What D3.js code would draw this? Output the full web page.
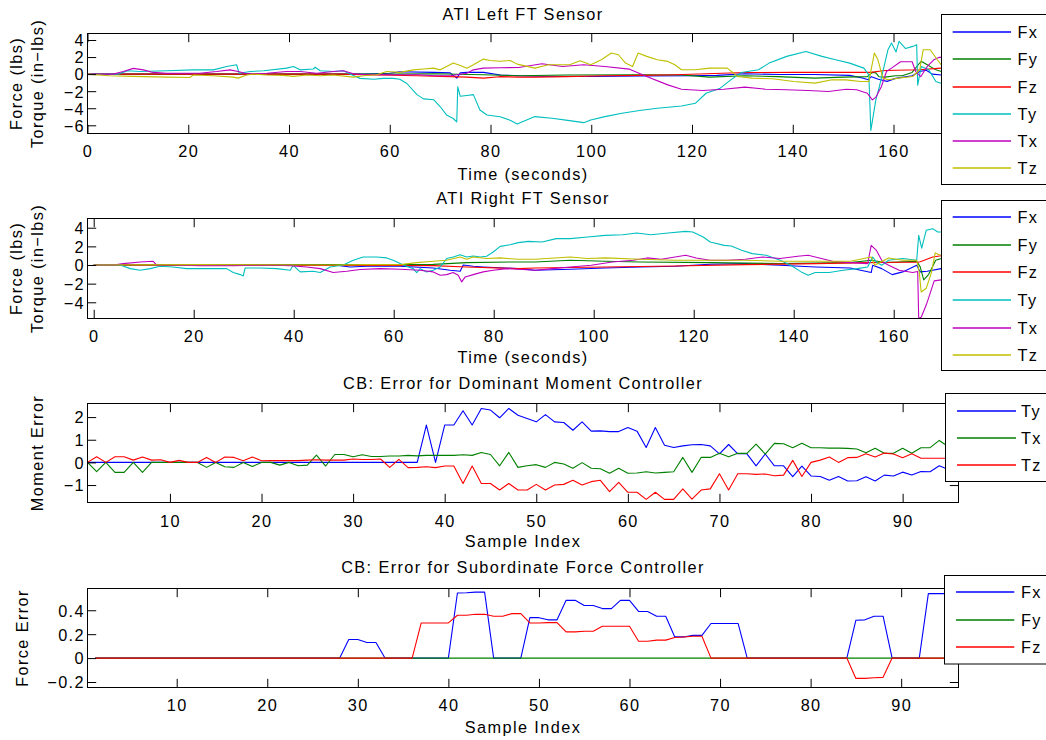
<!DOCTYPE html>
<html><head><meta charset="utf-8">
<script src="https://cdn.jsdelivr.net/npm/d3@7"></script>
<style>
body{margin:0;background:#fff;}
svg text{font-family:"Liberation Sans",Arial,Helvetica,sans-serif;font-size:16.3px;letter-spacing:1.4px;fill:#000;}
</style></head><body><svg id="c" width="1046" height="740"></svg>
<script>
// ---------------- DATA ----------------
const timeTicks = [0,20,40,60,80,100,120,140,160];
const sampleTicks = [10,20,30,40,50,60,70,80,90];
const leftYTicks = [-6,-4,-2,0,2,4];
const rightYTicks = [-4,-2,0,2,4];
const momentYTicks = [-1,0,1,2];
const forceYTicks = [-0.2,0,0.2,0.4];
const sensorLabels = ["Fx","Fy","Fz","Ty","Tx","Tz"];
const momentLabels = ["Ty","Tx","Tz"];
const forceLabels = ["Fx","Fy","Fz"];

// ATI Left FT Sensor  [time (s), value]
const leftFx = [[0,0],[55,0],[60,0.1],[62,0.27],[68.7,0.2],[72,0.15],[73.3,-0.47],[74,0.15],[75.3,0.2],[78.6,0.2],[82,-0.1],[85.6,-0.2],[90,-0.25],[100,-0.28],[110,-0.22],[120,-0.2],[125,-0.15],[130.5,0.04],[137.4,-0.05],[144.4,-0.05],[151.3,-0.15],[153.8,-0.45],[155,-0.65],[155.6,-0.3],[157,-0.6],[158.7,-0.85],[160.4,-0.5],[163.7,-0.2],[165.2,0.3],[166.5,0.45],[167.7,0],[169.5,-0.1],[173,-0.15]];
const leftFy = [[0,0],[60,0],[68.7,0.05],[78.6,-0.08],[85.6,-0.2],[95,-0.1],[110,-0.08],[118,-0.1],[123.5,-0.35],[130.5,-0.2],[137,-0.3],[144.4,-0.47],[150,-0.35],[154.8,-0.3],[155.8,0.2],[156.5,0.15],[157.1,-0.3],[158.3,-0.35],[160.4,-0.2],[161.7,-0.2],[163.7,0.2],[165.2,1.3],[165.5,1.5],[166.7,1.1],[168.4,0.5],[169.5,0.3],[173,0.3]];
const leftFz = [[0,0],[50,0],[55.4,-0.08],[65.4,-0.2],[75.3,-0.35],[78.6,-0.47],[81.8,-0.3],[85.6,-0.35],[88.8,-0.35],[95,-0.3],[102.7,-0.2],[110,-0.15],[116.6,-0.08],[123,0.05],[130.5,0.19],[140,0.2],[151.3,0.2],[155.5,0.2],[158.3,0.43],[165.2,0.51],[169.4,0.7],[173,0.7]];
const leftTy = [[0,0],[6,0],[8,0.4],[10.4,0.3],[15.7,0.4],[21,0.5],[25,0.5],[27.6,0.9],[29.6,1.1],[30.1,0.1],[32.3,0.3],[35,0.4],[39.5,0.7],[40.9,0.9],[42.2,0.5],[44.8,0.6],[45.2,0.8],[46.2,0.4],[48.8,0.3],[50.8,0.4],[52.1,0.0],[54.1,-0.5],[56.8,-0.6],[58.7,-0.5],[60.7,-0.5],[62,-0.6],[63.4,-1.1],[65.4,-2.4],[66.7,-2.9],[68.7,-3.0],[70,-3.8],[71.3,-4.8],[72.6,-5.2],[73.3,-5.6],[73.5,-1.5],[74,-2.6],[75.3,-2.5],[76.6,-2.4],[77.9,-4.2],[79.3,-4.8],[81.9,-5.0],[83.9,-5.4],[85.3,-5.84],[88.8,-4.98],[92.2,-5.18],[95.7,-5.45],[98.5,-5.69],[99.9,-5.37],[102.7,-4.98],[106.1,-4.59],[109.6,-4.27],[113.1,-4.0],[117.9,-3.73],[120.7,-3.41],[122.8,-2.24],[125.6,-1.65],[127.7,-0.67],[129.8,0.19],[133.2,0.51],[135.3,1.29],[138.8,2.08],[142.6,2.66],[145.8,2.08],[148.5,1.68],[151.3,1.29],[154.1,0.70],[155.1,-0.08],[155.5,-6.6],[156.5,-3.0],[157.2,-1.45],[157.9,0.31],[158.9,2.86],[159.6,3.64],[160.5,2.6],[161.1,3.84],[162.4,3.0],[163.8,3.25],[164.6,3.45],[164.8,-1.3],[165.5,0.9],[167,0.5],[168.4,-0.86],[169.4,-1.06],[173,-0.8]];
const leftTx = [[0,0],[5.1,0],[7.1,0.3],[9.1,0.67],[11.1,0.5],[13,0.2],[15.7,0.1],[22.3,0.1],[25.6,0.3],[28.3,0.5],[29.9,0.3],[31.6,0.05],[35.6,0.1],[39.5,0.3],[42.2,0.3],[45.5,0.1],[48.8,0.3],[50.8,0.4],[52.8,0.05],[55.4,-0.08],[62,-0.08],[65.8,-0.08],[68.7,-0.2],[72,-0.2],[75.3,0.1],[76.6,0.5],[78.6,0.7],[81.9,0.75],[85.6,0.78],[90.2,1.21],[94.3,0.9],[98.5,1.1],[102.7,0.9],[107.5,0.59],[111,-0.28],[115.2,-1.26],[117.9,-1.77],[122.1,-1.92],[126.3,-1.77],[130.5,-1.53],[134.6,-1.77],[138.8,-1.84],[143,-1.92],[147.1,-2.04],[150.6,-1.77],[152.7,-1.84],[154.8,-2.24],[155.8,-3.02],[156.5,-2.7],[157.6,-1.45],[158.6,0.31],[159.6,0.7],[161.4,1.45],[163.7,1.45],[164.4,0.3],[165.4,-0.3],[166.7,0.9],[168,1.68],[169,1.96],[173,2.0]];
const leftTz = [[0,0],[4.4,-0.2],[9,-0.27],[15.7,-0.35],[20.3,-0.4],[21,-0.1],[25,-0.2],[28.9,-0.35],[29.9,-0.47],[31.6,-0.1],[32.9,0.0],[35.6,-0.1],[38.9,-0.15],[40.9,-0.27],[43.5,-0.1],[46.2,-0.2],[48.8,-0.1],[52.8,-0.35],[54.8,-0.2],[57.4,-0.08],[59.4,0.3],[62,0.2],[64.7,0.5],[66.7,0.6],[68.7,0.7],[70,0.5],[71.3,0.9],[72.6,1.3],[74,1.0],[75.3,0.7],[76.6,1.1],[78.6,1.76],[79.9,1.6],[81.9,1.5],[83.9,1.6],[85.3,1.17],[88.8,0.70],[91.5,1.1],[95.7,1.1],[97.8,1.57],[99.9,1.1],[102,1.68],[104,2.47],[105.4,2.27],[106.8,1.29],[108.2,0.9],[109.3,2.47],[111,2.08],[113.1,1.68],[115.2,1.49],[116.6,1.1],[117.9,0.51],[120.7,0.51],[123.5,0.7],[127,0.7],[129.1,-0.28],[131.9,-0.47],[136,-0.55],[140.2,-0.86],[144.4,-1.06],[147.8,-0.67],[150.6,-0.67],[153.4,-0.86],[155.1,-0.86],[156.2,2.47],[156.9,1.68],[157.9,-0.47],[159,-0.67],[161,-0.47],[163.8,-0.28],[165.2,0.51],[165.9,2.86],[167.3,2.86],[168.7,1.68],[169.7,0.9],[173,0.5]];

// ATI Right FT Sensor  [time (s), value]
const rightFx = [[0,0],[48,0],[51.3,-0.21],[54.6,-0.14],[61.3,-0.14],[67.9,-0.32],[71.3,-0.56],[73.3,-0.67],[73.9,0.0],[75.9,-0.14],[77.9,-0.21],[81.3,-0.3],[84.9,-0.39],[88.3,-0.56],[95.3,-0.46],[102.3,-0.32],[109.3,-0.21],[116.3,-0.14],[123.3,0.08],[130.3,0.15],[137.3,-0.03],[144.3,-0.21],[151.3,-0.32],[155.5,-0.81],[155.8,-0.03],[157.6,-0.39],[159.7,-1.03],[161.8,-0.74],[164.6,-0.03],[165.3,-0.74],[166.7,-0.67],[169.5,-0.39],[173,-0.3]];
const rightFy = [[0,0],[60,0.05],[67.9,0.07],[74.6,0.26],[84.9,0.33],[88.3,0.33],[95.3,0.51],[102.3,0.4],[109.3,0.33],[123.3,0.26],[137.3,0.15],[151.3,0.26],[155.5,0.51],[158.3,0.26],[164.6,0.4],[165.3,-0.2],[166,-1.6],[167,-1.0],[168.4,0.51],[169.5,0.7],[173,0.7]];
const rightFz = [[0,0],[60,-0.05],[67.9,-0.07],[74.6,-0.21],[84.9,-0.39],[88.3,-0.32],[102.3,-0.21],[116.3,-0.1],[130.3,0.04],[144.3,0.15],[154.8,0.26],[161.8,0.3],[164.8,0.3],[165.3,0.35],[167.8,0.86],[169.5,1.0],[173,1.0]];
const rightTy = [[0,0],[5.3,0],[7.3,-0.39],[9.3,-0.56],[11.3,-0.39],[13.3,-0.14],[15.9,-0.21],[18.6,-0.39],[26.6,-0.39],[27.9,-0.81],[29.3,-1.03],[29.9,-1.17],[30.3,-0.32],[33.3,-0.32],[36.6,-0.39],[39.3,-0.56],[39.9,-0.03],[41.3,-0.74],[43.9,-0.67],[45.3,-0.81],[47.3,-0.21],[49.9,0.0],[51.9,0.51],[53.9,0.86],[56.6,0.86],[58.6,0.76],[59.9,0.51],[61.9,0.0],[63.9,-0.39],[64.6,-0.81],[65.3,-0.39],[66.6,-0.74],[67.9,-0.56],[69.3,-0.21],[70.6,0.69],[71.9,0.86],[73.3,1.1],[74.6,0.86],[75.9,0.97],[77.3,0.86],[78.6,0.94],[79.9,1.4],[81.3,2.0],[83.3,2.18],[84.9,2.4],[86.9,2.54],[89.7,2.47],[92.5,2.83],[95.3,2.83],[98.8,3.0],[102.3,3.18],[105.8,3.25],[108.6,3.43],[111.4,3.25],[114.9,3.43],[118.4,3.61],[119.8,3.54],[121.9,3.0],[123.3,2.47],[126.1,2.11],[127.5,2.04],[129.6,1.58],[131.7,1.22],[134.5,1.04],[137.3,0.51],[139.4,-0.03],[141.5,-0.74],[142.9,-1.1],[144.3,-0.81],[147.1,-0.81],[149.9,-0.56],[152.7,-0.39],[154.8,-0.21],[155.8,0.86],[156.5,0.33],[157.6,-0.03],[159,0.51],[161.8,0.69],[164.6,0.51],[165,3.18],[165.6,1.8],[166.5,3.72],[167.8,3.9],[168.8,3.54],[169.5,3.54],[173,3.5]];
const rightTx = [[0,0],[4,0],[5.9,0.15],[9.3,0.33],[11.9,0.4],[12.6,0.0],[15.9,0.0],[21.3,-0.07],[27.9,-0.07],[34.6,0.0],[39.3,-0.07],[42.6,-0.21],[45.3,-0.39],[47.9,-0.81],[50.6,-0.67],[53.3,-0.49],[57.3,-0.39],[61.3,-0.46],[65.3,-0.56],[67.9,-0.74],[69.3,-1.1],[70.6,-1.03],[71.9,-0.81],[72.9,-1.1],[73.6,-1.81],[74.3,-1.28],[75.9,-1.03],[77.9,-0.74],[79.9,-0.56],[82.6,-0.39],[84.9,-0.46],[88.3,-0.56],[91.8,-0.39],[95.3,-0.21],[99.5,-0.03],[103.7,0.33],[107.9,0.51],[110.7,0.76],[113.5,0.61],[116.3,0.86],[118.4,1.04],[120.5,0.76],[123.3,0.51],[126.8,0.51],[130.3,0.61],[133.8,0.86],[137.3,0.69],[140.8,0.94],[142.9,1.04],[144.3,0.86],[147.8,0.4],[151.3,0.26],[154.8,0.15],[155.5,2.11],[156.5,1.6],[157.8,0.33],[159,-0.03],[161.1,-0.56],[163.8,-0.81],[164.8,-0.7],[165,-5.74],[165.5,-5.6],[166.5,-4.3],[167.5,-2.7],[168.1,-1.7],[169.5,-1.6],[173,-1.5]];
const rightTz = [[0,0],[21.3,0.04],[47.9,0.0],[54.6,0.04],[61.3,0.04],[64.6,0.26],[67.9,0.4],[70.6,0.51],[73.3,0.86],[74.6,0.61],[75.9,0.86],[78.6,0.69],[81.3,0.76],[84.9,0.61],[88.3,0.61],[95.3,0.86],[98.8,0.69],[102.3,0.76],[109.3,0.61],[116.3,0.51],[130.3,0.51],[137.3,0.4],[151.3,0.4],[155.5,0.86],[156.2,-0.03],[157.2,0.26],[159,0.76],[161.8,0.51],[164.6,0.51],[165.1,-0.74],[165.5,-2.9],[166.5,-2.5],[167.5,-0.9],[168.3,1.3],[169.1,1.1],[173,1.0]];

// CB: Error for Dominant Moment Controller  (samples 1..96)
const momentTy = [0,0,0,0,0,0,0,0,0,0, 0,0,0,0,0,0,0,0,0,0, 0,0,0,0,0,0,0,0,0,0, 0,0,0,0,0,0,0,1.65,0,1.65,
 1.65,2.28,1.65,2.38,2.31,1.97,2.38,2.08,1.94,1.79, 2.11,1.79,1.76,1.42,1.79,1.38,1.39,1.36,1.36,1.54,
 1.38,0.66,1.54,0.76,0.66,0.73,0.78,0.79,0.73,0.38, 0.79,0.38,0.38,-0.15,0.37,-0.15,-0.15,-0.63,-0.16,-0.60,
 -0.62,-0.79,-0.62,-0.82,-0.81,-0.63,-0.82,-0.56,-0.60,-0.43, -0.56,-0.40,-0.41,-0.15,-0.31,-0.10];
const momentTx = [0,-0.41,0,-0.44,-0.44,0,-0.44,0,0,0, 0,0,0,-0.22,0,-0.19,-0.22,0,-0.18,0,
 0,-0.12,0,-0.15,-0.12,0.32,-0.16,0.35,0.35,0.25, 0.34,0.26,0.26,0.28,0.28,0.31,0.29,0.31,0.31,0.31,
 0.31,0.34,0.31,0.44,0.35,-0.15,0.44,-0.22,-0.15,-0.10, -0.22,0,-0.07,-0.26,-0.01,-0.26,-0.28,-0.48,-0.26,-0.48,
 -0.47,-0.41,-0.47,-0.44,-0.41,0.22,-0.44,0.22,0.22,0.40, 0.25,0.40,0.40,0.81,0.37,0.84,0.82,0.65,0.84,0.65,
 0.65,0.63,0.63,0.62,0.59,0.43,0.62,0.40,0.40,0.62, 0.40,0.65,0.65,0.97,0.69,0.90];
const momentTz = [0,0.25,0,0.25,0.25,0.10,0.24,0.10,0.12,0, 0.09,0,0,0.22,0,0.24,0.22,0.07,0.24,0.07,
 0.08,0.08,0.08,0.08,0.10,0.12,0.10,0.10,0.10,0.15, 0.13,0.13,0.15,-0.22,0.13,-0.23,-0.22,-0.19,-0.23,-0.16,
 -0.16,-0.93,-0.16,-0.93,-0.93,-1.22,-0.93,-1.22,-1.22,-0.97, -1.22,-1.00,-0.97,-0.79,-1.00,-0.85,-0.79,-1.29,-0.88,-1.32,
 -1.32,-1.63,-1.32,-1.63,-1.63,-1.17,-1.62,-1.22,-1.17,-0.50, -1.22,-0.50,-0.50,-0.53,-0.51,-0.59,-0.56,0.09,-0.62,0,
 0.10,0.24,0,0.21,0.22,0.38,0.24,0.41,0.37,0.21, 0.38,0.18,0.18,0.18,0.18,0.18];

// CB: Error for Subordinate Force Controller  (samples 1..96)
const forceFx = [0,0,0,0,0,0,0,0,0,0, 0,0,0,0,0,0,0,0,0,0, 0,0,0,0,0,0,0,0,0.155,0.155,
 0.13,0.13,0,0,0,0,0,0,0,0, 0.544,0.547,0.552,0.552,0,0,0,0,0.338,0.338,
 0.32,0.32,0.483,0.483,0.44,0.44,0.414,0.414,0.483,0.483, 0.39,0.39,0.35,0.35,0.177,0.177,0.19,0.19,0.289,0.289,
 0.289,0.289,0,0,0,0,0,0,0,0, 0,0,0,0,0.317,0.32,0.35,0.35,0,0, 0,0,0.539,0.539,0.539,0.539];
const forceFy = [0,0,0,0,0,0,0,0,0,0, 0,0,0,0,0,0,0,0,0,0, 0,0,0,0,0,0,0,0,0,0,
 0,0,0,0,0,0,0,0,0,0, 0,0,0,0,0,0,0,0,0,0, 0,0,0,0,0,0,0,0,0,0,
 0,0,0,0,0,0,0,0,0,0, 0,0,0,0,0,0,0,0,0,0, 0,0,0,0,0,0,0,0,0,0, 0,0,0,0,0,0];
const forceFz = [0,0,0,0,0,0,0,0,0,0, 0,0,0,0,0,0,0,0,0,0, 0,0,0,0,0,0,0,0,0,0,
 0,0,0,0,0,0,0.294,0.294,0.294,0.294, 0.358,0.358,0.366,0.366,0.35,0.35,0.372,0.372,0.294,0.294,
 0.297,0.297,0.219,0.219,0.225,0.225,0.266,0.266,0.266,0.266, 0.141,0.141,0.15,0.15,0.172,0.177,0.183,0.183,0,0,
 0,0,0,0,0,0,0,0,0,0, 0,0,0,0,-0.17,-0.17,-0.164,-0.161,0,0, 0,0,0,0,0,0];

// ---------------- DRAW ----------------
const C = {blue:"#0000ff", green:"#008000", red:"#ff0000", cyan:"#00bfbf", magenta:"#bf00bf", olive:"#bfbf00"};
const svg = d3.select("#c");
const L = 87.5, R = 958.5, TICK = 8.7;
const fmt = d3.format("~g");

function toPairs(vals){ return vals.map((v,i)=>[i+1, v]); }

function panel(p){
  const x = d3.scaleLinear().domain(p.xDomain).range([L, R]);
  const y = d3.scaleLinear().domain(p.yDomain).range([p.bottom, p.top]);
  const g = svg.append("g");
  const cid = "clip" + p.id;
  svg.append("clipPath").attr("id", cid).append("rect")
    .attr("x", L).attr("y", p.top).attr("width", R - L).attr("height", p.bottom - p.top);
  const line = d3.line().x(d => x(d[0])).y(d => y(d[1]));
  const lg = g.append("g").attr("clip-path", `url(#${cid})`);
  p.series.forEach(s => {
    lg.append("path").attr("d", line(s.data)).attr("fill","none")
      .attr("stroke", s.color).attr("stroke-width", 1.1).attr("stroke-linejoin","round");
  });
  // axes
  const ax = g.append("g").attr("transform", `translate(0,${p.bottom})`)
    .call(d3.axisBottom(x).tickValues(p.xTicks).tickFormat(fmt).tickSize(-TICK).tickPadding(0));
  ax.selectAll("text").attr("y", p.xLabelOff).attr("dy", null);
  g.append("g").attr("transform", `translate(0,${p.top})`)
    .call(d3.axisTop(x).tickValues(p.xTicks).tickFormat("").tickSize(-TICK));
  const ay = g.append("g").attr("transform", `translate(${L},0)`)
    .call(d3.axisLeft(y).tickValues(p.yTicks).tickFormat(fmt).tickSize(-TICK).tickPadding(0));
  ay.selectAll("text").attr("x", -2.5).attr("dy", "0.36em");
  g.append("g").attr("transform", `translate(${R},0)`)
    .call(d3.axisRight(y).tickValues(p.yTicks).tickFormat("").tickSize(-TICK));
  g.selectAll(".domain").remove();
  g.selectAll(".tick line").attr("stroke", "#000");
  g.append("rect").attr("x", L).attr("y", p.top).attr("width", R - L).attr("height", p.bottom - p.top)
    .attr("fill","none").attr("stroke","#000").attr("stroke-width",1);
  // title & labels
  const cx = (L + R) / 2;
  svg.append("text").attr("x", cx).attr("y", p.titleY).attr("text-anchor","middle").text(p.title);
  svg.append("text").attr("x", cx).attr("y", p.xLabelY).attr("text-anchor","middle").text(p.xLabel);
  const cy = (p.top + p.bottom) / 2;
  p.yLabels.forEach(yl => {
    svg.append("text").attr("transform", `translate(${yl.x},${cy}) rotate(-90)`)
      .attr("text-anchor","middle").text(yl.text);
  });
  // legend
  const lgd = svg.append("g");
  lgd.append("rect").attr("x", p.leg.x).attr("y", p.leg.y).attr("width", p.leg.w).attr("height", p.leg.h)
    .attr("fill","#fff").attr("stroke","#000").attr("stroke-width",1);
  p.series.forEach((s, i) => {
    const ey = Math.round(p.leg.y + p.leg.first + i * p.leg.step);
    lgd.append("line").attr("x1", p.leg.lx1).attr("x2", p.leg.lx2).attr("y1", ey).attr("y2", ey)
      .attr("stroke", s.color).attr("stroke-width", 1.5);
    lgd.append("text").attr("x", p.leg.tx).attr("y", ey + 5.8).text(s.name);
  });
}

const leftData = [leftFx, leftFy, leftFz, leftTy, leftTx, leftTz];
const rightData = [rightFx, rightFy, rightFz, rightTy, rightTx, rightTz];
const sensorColors = [C.blue, C.green, C.red, C.cyan, C.magenta, C.olive];
const tripleColors = [C.blue, C.green, C.red];

panel({id:1, top:33.5, bottom:133.5, xDomain:[0,172.9], yDomain:[-6.96,4.76],
  xTicks:timeTicks, yTicks:leftYTicks, xLabelOff:23, title:"ATI Left FT Sensor", titleY:19.5,
  xLabel:"Time (seconds)", xLabelY:179.5,
  yLabels:[{x:21.7,text:"Force (lbs)"},{x:43.4,text:"Torque (in\u2212lbs)"}],
  series: sensorLabels.map((n,i)=>({name:n, color:sensorColors[i], data:leftData[i]})),
  leg:{x:941.5,y:14.5,w:130,h:170,first:17.8,step:27.1,lx1:952.7,lx2:1011,tx:1017.5}});

panel({id:2, top:218.5, bottom:318.5, xDomain:[-1.24,172.96], yDomain:[-5.74,4.99],
  xTicks:timeTicks, yTicks:rightYTicks, xLabelOff:23.2, title:"ATI Right FT Sensor", titleY:203.5,
  xLabel:"Time (seconds)", xLabelY:363,
  yLabels:[{x:21.7,text:"Force (lbs)"},{x:43.4,text:"Torque (in\u2212lbs)"}],
  series: sensorLabels.map((n,i)=>({name:n, color:sensorColors[i], data:rightData[i]})),
  leg:{x:941.5,y:200.5,w:130,h:170,first:16.6,step:27.6,lx1:952.7,lx2:1011,tx:1017.5}});

const momentData = [momentTy, momentTx, momentTz];
panel({id:3, top:403.5, bottom:502.5, xDomain:[1,96.1], yDomain:[-1.77,2.6],
  xTicks:sampleTicks, yTicks:momentYTicks, xLabelOff:24, title:"CB: Error for Dominant Moment Controller", titleY:388.5,
  xLabel:"Sample Index", xLabelY:547,
  yLabels:[{x:43.4,text:"Moment Error"}],
  series: momentLabels.map((n,i)=>({name:n, color:tripleColors[i], data:toPairs(momentData[i])})),
  leg:{x:945.5,y:393.5,w:130,h:88,first:17.2,step:27,lx1:957,lx2:1016,tx:1021}});

const forceData = [forceFx, forceFy, forceFz];
panel({id:4, top:588.5, bottom:687.5, xDomain:[0.15,96.33], yDomain:[-0.246,0.582],
  xTicks:sampleTicks, yTicks:forceYTicks, xLabelOff:23.2, title:"CB: Error for Subordinate Force Controller", titleY:572.5,
  xLabel:"Sample Index", xLabelY:733,
  yLabels:[{x:28.4,text:"Force Error"}],
  series: forceLabels.map((n,i)=>({name:n, color:tripleColors[i], data:toPairs(forceData[i])})),
  leg:{x:944.5,y:575.5,w:130,h:88.5,first:16.8,step:27.5,lx1:956,lx2:1014.3,tx:1021}});
</script></body></html>
